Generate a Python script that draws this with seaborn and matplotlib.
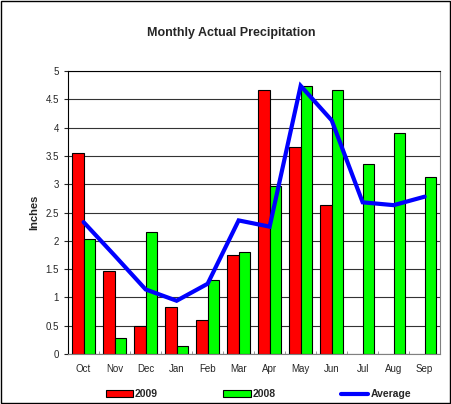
import numpy as np
import pandas as pd
import matplotlib
matplotlib.use("Agg")
import matplotlib.pyplot as plt
import seaborn as sns
from matplotlib.patches import Patch, Rectangle
from matplotlib.lines import Line2D

# --- data ---
months = ["Oct", "Nov", "Dec", "Jan", "Feb", "Mar", "Apr", "May", "Jun", "Jul", "Aug", "Sep"]
rain_2009 = [3.56, 1.46, 0.50, 0.83, 0.60, 1.74, 4.66, 3.65, 2.63, np.nan, np.nan, np.nan]
rain_2008 = [2.03, 0.28, 2.15, 0.14, 1.30, 1.80, 2.97, 4.73, 4.67, 3.35, 3.90, 3.12]
average = [2.33, 1.74, 1.14, 0.94, 1.24, 2.36, 2.25, 4.74, 4.13, 2.68, 2.63, 2.78]

sns.set_style("white")
plt.rcParams["font.family"] = ["Liberation Sans", "DejaVu Sans"]

df = pd.DataFrame({
    "Month": months * 2,
    "Year": ["2009"] * 12 + ["2008"] * 12,
    "Inches": rain_2009 + rain_2008,
})

fig = plt.figure(figsize=(4.51, 4.04), dpi=100)
ax = fig.add_axes([0.151, 0.124, 0.825, 0.700])

sns.barplot(data=df, x="Month", y="Inches", hue="Year", hue_order=["2009", "2008"],
            palette={"2009": "#FF0000", "2008": "#00FF00"}, order=months,
            width=0.76, edgecolor="black", linewidth=0.8, saturation=1, ax=ax, zorder=2)
ax.plot(range(len(months)), average, color="#0000FF", lw=3, zorder=3, solid_joinstyle="miter")

ax.set_ylim(0, 5)
ax.set_xlim(-0.5, 11.5)
ax.set_yticks(np.arange(0, 5.01, 0.5))
ax.set_yticklabels(["0", "0.5", "1", "1.5", "2", "2.5", "3", "3.5", "4", "4.5", "5"])
ax.yaxis.grid(True, color="#333333", lw=0.8, zorder=0)
ax.set_axisbelow(True)
ax.tick_params(axis="y", labelsize=7, length=3, left=True, width=0.8)
ax.tick_params(axis="x", labelsize=7, length=0, pad=7)
ax.set_xticks(np.arange(-0.5, 12, 1), minor=True)
ax.tick_params(axis="x", which="minor", length=2, color="#888888", direction="in", bottom=True)
for s in ax.spines.values():
    s.set_color("black")
    s.set_linewidth(0.8)
ax.spines["right"].set_color("#808080")
ax.spines["bottom"].set_color("#808080")

ax.set_xlabel("")
ax.set_ylabel("Inches", fontsize=8, fontweight="bold", labelpad=5)
fig.text(0.513, 0.918, "Monthly Actual Precipitation", ha="center", va="center",
         fontsize=9, fontweight="bold")

if ax.get_legend() is not None:
    ax.get_legend().remove()
handles = [Patch(facecolor="#FF0000", edgecolor="black", lw=0.8),
           Patch(facecolor="#00FF00", edgecolor="black", lw=0.8),
           Line2D([0], [0], color="#0000FF", lw=3)]
fig.legend(handles, ["2009", "2008", "Average"], loc="center", bbox_to_anchor=(0.573, 0.024),
           ncol=3, frameon=False, prop={"size": 7.5, "weight": "bold"},
           handlelength=2.6, handleheight=0.7, handletextpad=0.2, columnspacing=6.3)

fig.patches.append(Rectangle((0.002, 0.002), 0.996, 0.996, transform=fig.transFigure,
                             fill=False, edgecolor="black", lw=1))

fig.savefig("out.png", dpi=100)
